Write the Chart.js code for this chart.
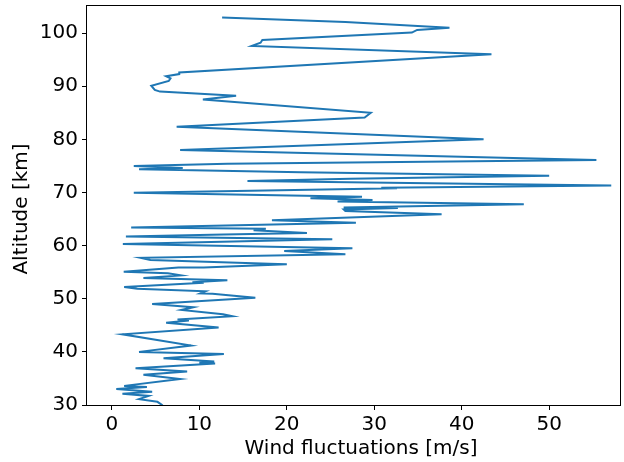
<!DOCTYPE html>
<html>
<head>
<meta charset="utf-8">
<script src="https://cdn.jsdelivr.net/npm/chart.js@4"></script>
<style>
  html, body { margin: 0; padding: 0; background: #fff; }
  #wrap { width: 624px; height: 462px; }
</style>
</head>
<body>
<div id="wrap"><canvas id="windChart" width="624" height="462"></canvas></div>
<script>
// profile, listed from the top of the sounding downwards
const altitude = [
  102.95, 102.1, 101.0, 100.6, 100.1, 98.7, 98.2, 97.6, 96.05, 92.6,
  92.3, 91.9, 91.5, 91.0, 90.1, 89.3, 89.0, 88.2, 87.5, 85.0,
  84.1, 82.4, 80.05, 78.0, 76.1, 75.4, 75.0, 74.6, 74.4, 73.8,
  73.15, 72.6, 72.15, 71.3, 70.9, 70.8, 69.95, 69.2, 68.9, 68.6,
  68.3, 67.8, 67.2, 67.1, 66.8, 66.5, 65.9, 64.8, 64.3, 63.4,
  63.2, 62.9, 62.4, 62.1, 61.7, 61.2, 60.3, 59.5, 59.0, 58.4,
  57.7, 57.3, 56.6, 56.5, 55.9, 55.9, 55.1, 54.8, 54.4, 53.9,
  53.5, 53.1, 53.0, 52.2, 51.9, 51.4, 51.0, 50.95, 50.2, 49.0,
  48.4, 47.9, 47.1, 46.7, 46.1, 45.9, 45.5, 44.6, 43.3, 41.2,
  40.0, 39.6, 38.8, 38.2, 38.0, 37.8, 36.9, 36.3, 35.7, 34.9,
  33.6, 33.4, 33.0, 32.5, 32.1, 31.7, 31.1, 30.6, 30.05, 29.5
];
const windFluct = [
  12.6, 26.7, 38.6, 34.9, 34.3, 17.2, 17.0, 16.0, 43.4, 7.7,
  7.7, 6.2, 6.7, 6.5, 4.5, 4.9, 5.5, 14.2, 10.4, 29.6,
  28.9, 7.4, 42.5, 7.8, 55.4, 13.2, 2.5, 8.1, 3.1, 21.6,
  50.0, 27.3, 15.5, 57.1, 30.8, 32.6, 2.5, 28.6, 22.7, 29.8,
  25.8, 47.1, 26.5, 32.7, 26.5, 26.7, 37.7, 18.3, 27.9, 2.2,
  17.6, 16.2, 22.3, 12.8, 1.6, 25.2, 1.25, 27.5, 19.7, 26.7,
  3.3, 4.4, 18.0, 20.0, 10.5, 7.6, 1.35, 6.4, 7.9, 3.6,
  13.2, 9.2, 10.5, 1.4, 2.9, 10.7, 10.1, 11.5, 16.4, 4.6,
  9.3, 7.95, 12.7, 13.8, 7.5, 8.8, 6.2, 12.2, 1.2, 9.05,
  3.1, 12.8, 5.9, 11.7, 10.0, 11.8, 2.7, 8.6, 3.6, 7.8,
  1.4, 4.0, 0.5, 4.6, 1.2, 4.2, 3.1, 5.2, 5.7, 6.0
];
const xTicks = [0, 10, 20, 30, 40, 50];
const yTicks = [30, 40, 50, 60, 70, 80, 90, 100];
const xLabel = 'Wind fluctuations [m/s]';
const yLabel = 'Altitude [km]';

const points = altitude.map((alt, i) => ({ x: windFluct[i], y: alt }));

const FONT = "'DejaVu Sans', sans-serif";

// four-sided frame like a matplotlib axes box
const frame = {
  id: 'frame',
  afterDatasetsDraw(chart) {
    const { ctx, chartArea: a } = chart;
    ctx.save();
    ctx.strokeStyle = '#000';
    ctx.lineWidth = 1;
    ctx.strokeRect(a.left - 0.5, a.top + 0.5, a.right - a.left + 1, a.bottom - a.top);
    ctx.restore();
  }
};

// axis labels, placed by hand
const axisTitles = {
  id: 'axisTitles',
  afterDraw(chart) {
    const { ctx } = chart;
    ctx.save();
    ctx.fillStyle = '#000';
    ctx.font = '20px ' + FONT;
    ctx.textAlign = 'center';
    ctx.textBaseline = 'middle';
    ctx.fillText(xLabel, 361, 449);
    ctx.translate(22, 209);
    ctx.rotate(-Math.PI / 2);
    ctx.fillText(yLabel, 0, 0);
    ctx.restore();
  }
};

new Chart(document.getElementById('windChart'), {
  type: 'scatter',
  data: {
    datasets: [{
      data: points,
      showLine: true,
      borderColor: '#1f77b4',
      borderWidth: 2,
      pointRadius: 0,
      tension: 0,
      fill: false
    }]
  },
  options: {
    responsive: false,
    devicePixelRatio: 1,
    animation: false,
    layout: { padding: { left: 0, right: 4, top: 5, bottom: 0 } },
    plugins: {
      legend: { display: false },
      tooltip: { enabled: false }
    },
    scales: {
      x: {
        type: 'linear',
        min: -2.85,
        max: 58.1,
        afterFit: s => { s.height = 57; s.paddingLeft = 0; s.paddingRight = 0; },
        afterBuildTicks: s => { s.ticks = xTicks.map(v => ({ value: v })); },
        grid: { display: true, drawOnChartArea: false, drawTicks: true, tickLength: 5, color: '#000', lineWidth: 1 },
        border: { display: false },
        ticks: { color: '#000', font: { family: FONT, size: 20 }, padding: 3, maxRotation: 0 }
      },
      y: {
        type: 'linear',
        min: 30,
        max: 105.3,
        afterFit: s => { s.width = 87; s.paddingTop = 0; s.paddingBottom = 0; },
        afterBuildTicks: s => { s.ticks = yTicks.map(v => ({ value: v })); },
        grid: { display: true, drawOnChartArea: false, drawTicks: true, tickLength: 5, color: '#000', lineWidth: 1 },
        border: { display: false },
        ticks: { color: '#000', font: { family: FONT, size: 20 }, padding: 4 }
      }
    }
  },
  plugins: [frame, axisTitles]
});
</script>
</body>
</html>
